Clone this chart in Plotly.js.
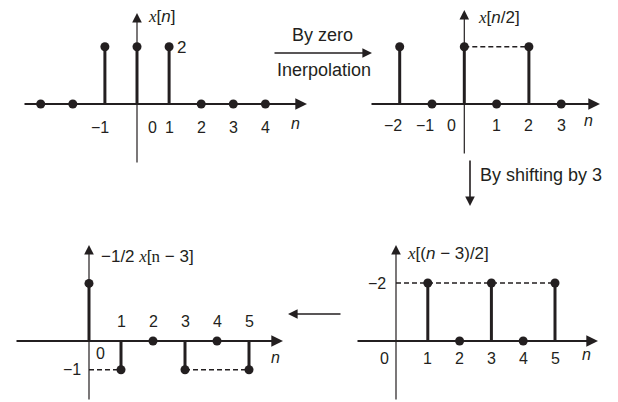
<!DOCTYPE html>
<html>
<head>
<meta charset="utf-8">
<script src="https://cdn.plot.ly/plotly-3.0.1.min.js"></script>
<style>
  body { margin: 0; background: #fff; }
  #chart { width: 618px; height: 402px; }
</style>
</head>
<body>
<div id="chart"></div>
<script>
// sample indices and values for each of the four stem plots
const n1 = [-3, -2, -1, 0, 1, 2, 3, 4];
const x1 = [0, 0, 2, 2, 2, 0, 0, 0];
const n2 = [-2, -1, 0, 1, 2, 3];
const x2 = [2, 0, 2, 0, 2, 0];
const n3 = [0, 1, 2, 3, 4, 5];
const x3 = [2, -1, 0, -1, 0, -1];
const n4 = [1, 2, 3, 4, 5];
const x4 = [2, 0, 2, 0, 2];

// tick labels (index + text)
const ticks1 = [-1, 1, 2, 3, 4];
const ticks2 = [-2, -1, 1, 2, 3];
const ticks3 = [1, 2, 3, 4, 5];
const ticks4 = [1, 2, 3, 4, 5];

// dashed guide lines: [from n, to n, level]
const dash2 = [[0, 2, 2]];
const dash3 = [[0, 1, -1], [3, 5, -1]];
const dash4 = [[0, 5, 2]];

const W = 618, H = 402;
const SERIF = "font-family:Liberation Serif";
const X = `<span style="${SERIF}"><i>x</i></span>`;

// geometry in pixels: origin, scale per unit, box, axis line ends
const panels = [
  { n: n1, v: x1, ticks: ticks1, dash: [], ox: 137, oy: 104, sx: 32.1, sy: 28.6,
    box: [5, 5, 318, 175], hx: [23, 307], vy: [164, 13], tickY: -23, negShift: -5,
    zero: [15, -23], nLab: [-12, -19], title: X + '[<i>n</i>]', titleShift: [9, -3] },
  { n: n2, v: x2, ticks: ticks2, dash: dash2, ox: 464.3, oy: 104, sx: 32.3, sy: 28.6,
    box: [360, 5, 613, 175], hx: [370, 600], vy: [155, 10], tickY: -21, negShift: -7,
    zero: [-13, -21], nLab: [-12, -16], title: X + '[<i>n</i>/2]', titleShift: [12, -7] },
  { n: n3, v: x3, ticks: ticks3, dash: dash3, ox: 89, oy: 341, sx: 32, sy: 28.8,
    box: [5, 232, 290, 401], hx: [15, 283], vy: [401, 245], tickY: 20, negShift: 0,
    zero: [11, -12], nLab: [-8, -16],
    title: '−1/2 ' + X + `[<span style="${SERIF}">n</span> − 3]`, titleShift: [10, -11] },
  { n: n4, v: x4, ticks: ticks4, dash: dash4, ox: 396, oy: 341, sx: 31.8, sy: 29,
    box: [350, 232, 613, 401], hx: [356, 598], vy: [401, 245], tickY: -17, negShift: 0,
    zero: [-12, -17], nLab: [-12, -13], title: X + '[(<i>n</i> − 3)/2]', titleShift: [9, -8] }
];
// extra level labels on the vertical axes
const levelLabels = [null, null, { y: -1, text: '−1', dx: -17 }, { y: 2, text: '−2', dx: -19 }];

const font = { family: 'Liberation Sans, Arial, sans-serif', size: 16, color: '#231f20' };
const ink = '#231f20';
const traces = [];
const annotations = [];
const layout = {
  width: W, height: H,
  margin: { l: 0, r: 0, t: 0, b: 0 },
  paper_bgcolor: '#fff', plot_bgcolor: 'rgba(0,0,0,0)',
  showlegend: false, font: font
};

panels.forEach((p, i) => {
  const k = i === 0 ? '' : String(i + 1);
  const xa = 'x' + k, ya = 'y' + k;
  const toX = px => (px - p.ox) / p.sx;
  const toY = py => (p.oy - py) / p.sy;
  layout['xaxis' + k] = {
    domain: [p.box[0] / W, p.box[2] / W], range: [toX(p.box[0]), toX(p.box[2])],
    visible: false, fixedrange: true
  };
  layout['yaxis' + k] = {
    domain: [1 - p.box[3] / H, 1 - p.box[1] / H], range: [toY(p.box[3]), toY(p.box[1])],
    visible: false, fixedrange: true
  };

  // axes with arrow heads
  annotations.push({ xref: xa, yref: ya, axref: xa, ayref: ya,
    x: toX(p.hx[1]), y: 0, ax: toX(p.hx[0]), ay: 0, text: '', showarrow: true,
    arrowhead: 2, arrowsize: 1.3, arrowwidth: 1.8, arrowcolor: ink, standoff: 0 });
  annotations.push({ xref: xa, yref: ya, axref: xa, ayref: ya,
    x: 0, y: toY(p.vy[1]), ax: 0, ay: toY(p.vy[0]), text: '', showarrow: true,
    arrowhead: 2, arrowsize: 1.6, arrowwidth: 1.2, arrowcolor: ink, standoff: 0 });

  // dashed guides
  const dx = [], dy = [];
  p.dash.forEach(d => { dx.push(d[0], d[1], null); dy.push(d[2], d[2], null); });
  if (dx.length) {
    traces.push({ x: dx, y: dy, xaxis: xa, yaxis: ya, mode: 'lines', type: 'scatter',
      line: { color: ink, width: 1.5, dash: '5px,3px' }, hoverinfo: 'skip' });
  }

  // stems
  const sx = [], sy = [];
  p.n.forEach((n, j) => { if (p.v[j] !== 0) { sx.push(n, n, null); sy.push(0, p.v[j], null); } });
  traces.push({ x: sx, y: sy, xaxis: xa, yaxis: ya, mode: 'lines', type: 'scatter',
    line: { color: ink, width: 3 }, hoverinfo: 'skip' });
  traces.push({ x: p.n, y: p.v, xaxis: xa, yaxis: ya, mode: 'markers', type: 'scatter',
    marker: { color: ink, size: 9 }, cliponaxis: false });

  // tick labels
  p.ticks.forEach(t => {
    annotations.push({ xref: xa, yref: ya, x: t, y: 0, text: t < 0 ? '−' + (-t) : String(t),
      showarrow: false, xshift: t < 0 ? p.negShift : 0, yshift: p.tickY });
  });
  annotations.push({ xref: xa, yref: ya, x: 0, y: 0, text: '0', showarrow: false,
    xshift: p.zero[0], yshift: p.zero[1] });
  annotations.push({ xref: xa, yref: ya, x: toX(p.hx[1]), y: 0, text: '<i>n</i>', showarrow: false,
    xshift: p.nLab[0], yshift: p.nLab[1] });
  annotations.push({ xref: xa, yref: ya, x: 0, y: toY(p.vy[1]), text: p.title, showarrow: false,
    xanchor: 'left', yanchor: 'middle', xshift: p.titleShift[0], yshift: p.titleShift[1],
    font: { size: 17 } });
  const lv = levelLabels[i];
  if (lv) {
    annotations.push({ xref: xa, yref: ya, x: 0, y: lv.y, text: lv.text, showarrow: false,
      xshift: lv.dx });
  }
});

// value label next to the first plot
annotations.push({ xref: 'x', yref: 'y', x: 1, y: 2, text: '2', showarrow: false,
  xanchor: 'left', yanchor: 'middle', xshift: 6, yshift: -1, font: { size: 17 } });

// operations between the plots
const big = { size: 18 };
const note = (px, py, text, xanchor) => ({ xref: 'paper', yref: 'paper', x: px / W, y: 1 - py / H,
  text: text, showarrow: false, xanchor: xanchor || 'center', yanchor: 'middle', font: big });
const arrow = (px, py, ax, ay) => ({ xref: 'paper', yref: 'paper', x: px / W, y: 1 - py / H,
  ax: ax, ay: ay, text: '', showarrow: true, arrowhead: 2, arrowsize: 1.2, arrowwidth: 1.6,
  arrowcolor: ink, standoff: 0 });
annotations.push(arrow(372, 53, -99, 0));
annotations.push(note(323, 35, 'By zero'));
annotations.push(note(324, 70, 'Inerpolation'));
annotations.push(arrow(470, 206, 0, -47));
annotations.push(note(478, 175, 'By shifting by 3', 'left'));
annotations.push(arrow(288, 314, 54, 0));

layout.annotations = annotations;

Plotly.newPlot('chart', traces, layout, { staticPlot: true, displayModeBar: false });
</script>
</body>
</html>
